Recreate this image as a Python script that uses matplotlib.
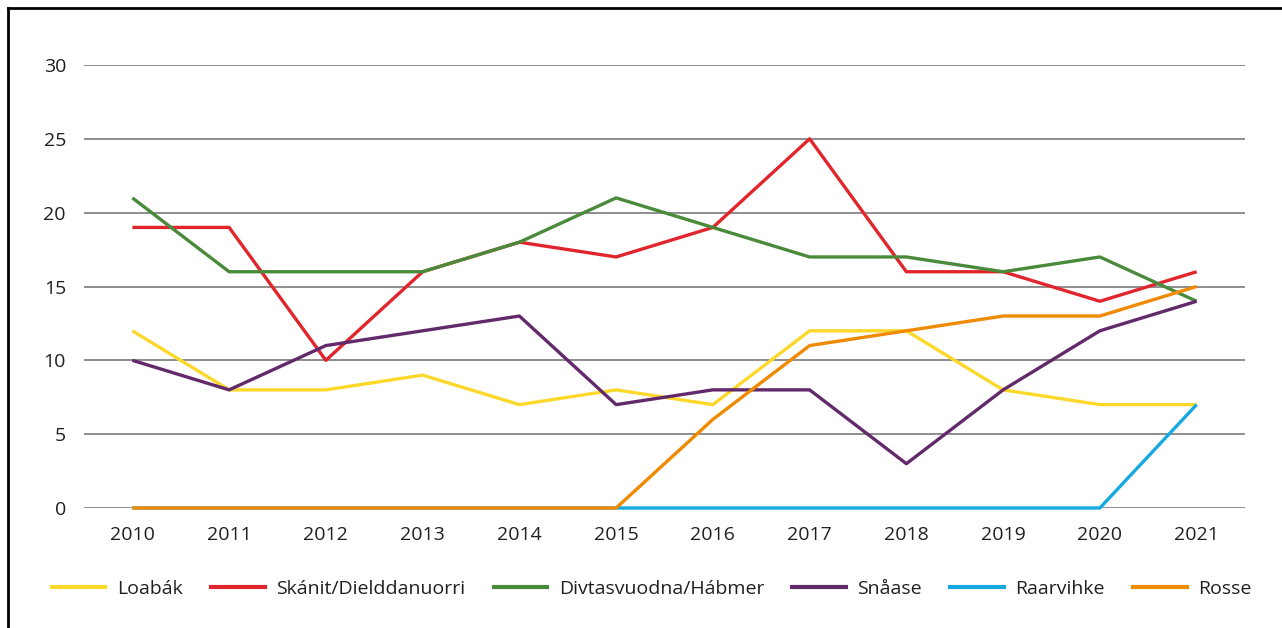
import matplotlib
matplotlib.use('Agg')
import matplotlib.pyplot as plt
from matplotlib.lines import Line2D

plt.rcParams['font.family'] = ['Open Sans', 'DejaVu Sans']

years = ['2010', '2011', '2012', '2013', '2014', '2015',
         '2016', '2017', '2018', '2019', '2020', '2021']

loabak = [12, 8, 8, 9, 7, 8, 7, 12, 12, 8, 7, 7]
skanit = [19, 19, 10, 16, 18, 17, 19, 25, 16, 16, 14, 16]
divtasvuodna = [21, 16, 16, 16, 18, 21, 19, 17, 17, 16, 17, 14]
snaase = [10, 8, 11, 12, 13, 7, 8, 8, 3, 8, 12, 14]
raarvihke = [0, 0, 0, 0, 0, 0, 0, 0, 0, 0, 0, 7]
rosse = [0, 0, 0, 0, 0, 0, 6, 11, 12, 13, 13, 15]

serier = [
    ('Loabák', loabak, '#fcd82a'),
    ('Skánit/Dielddanuorri', skanit, '#e0262c'),
    ('Divtasvuodna/Hábmer', divtasvuodna, '#4a8b3b'),
    ('Snåase', snaase, '#622a6b'),
    ('Raarvihke', raarvihke, '#17a8e0'),
    ('Rosse', rosse, '#f08a00'),
]

tekst = '#231f20'

fig = plt.figure(figsize=(12.82, 6.28), dpi=100)
ax = fig.add_axes([84 / 1282, 1 - 508 / 628, (1245 - 84) / 1282, (508 - 65) / 628])

x = list(range(len(years)))
for navn, verdier, farge in serier:
    ax.plot(x, verdier, color=farge, linewidth=2.4, solid_capstyle='butt', zorder=3, clip_on=False)

ax.set_xlim(-0.5, len(years) - 0.5)
ax.set_ylim(0, 30)
ax.set_yticks(range(0, 31, 5))
ax.set_xticks(x)
ax.set_xticklabels(years)
ax.yaxis.grid(True, color='#6f6f6f', linewidth=1.1)
ax.set_axisbelow(True)
for s in ax.spines.values():
    s.set_visible(False)
ax.tick_params(length=0, labelsize=14, labelcolor=tekst)
ax.tick_params(axis='y', pad=13)
ax.tick_params(axis='x', pad=13)

# legend
handles = [Line2D([], [], color=f, linewidth=3) for _, _, f in serier]
fig.legend(handles, [n for n, _, _ in serier], loc='center left', bbox_to_anchor=(52 / 1282, 1 - 589 / 628),
           ncol=6, frameon=False, fontsize=14, handlelength=2.75, columnspacing=1.45,
           handletextpad=0.6, labelcolor=tekst, borderpad=0, borderaxespad=0)

# ramme øverst og til venstre
fig.add_artist(Line2D([8 / 1282, 8 / 1282], [0, 1 - 8 / 628], color='black', linewidth=2))
fig.add_artist(Line2D([8 / 1282, 1], [1 - 8 / 628, 1 - 8 / 628], color='black', linewidth=2))

fig.savefig('out.png', dpi=100)
